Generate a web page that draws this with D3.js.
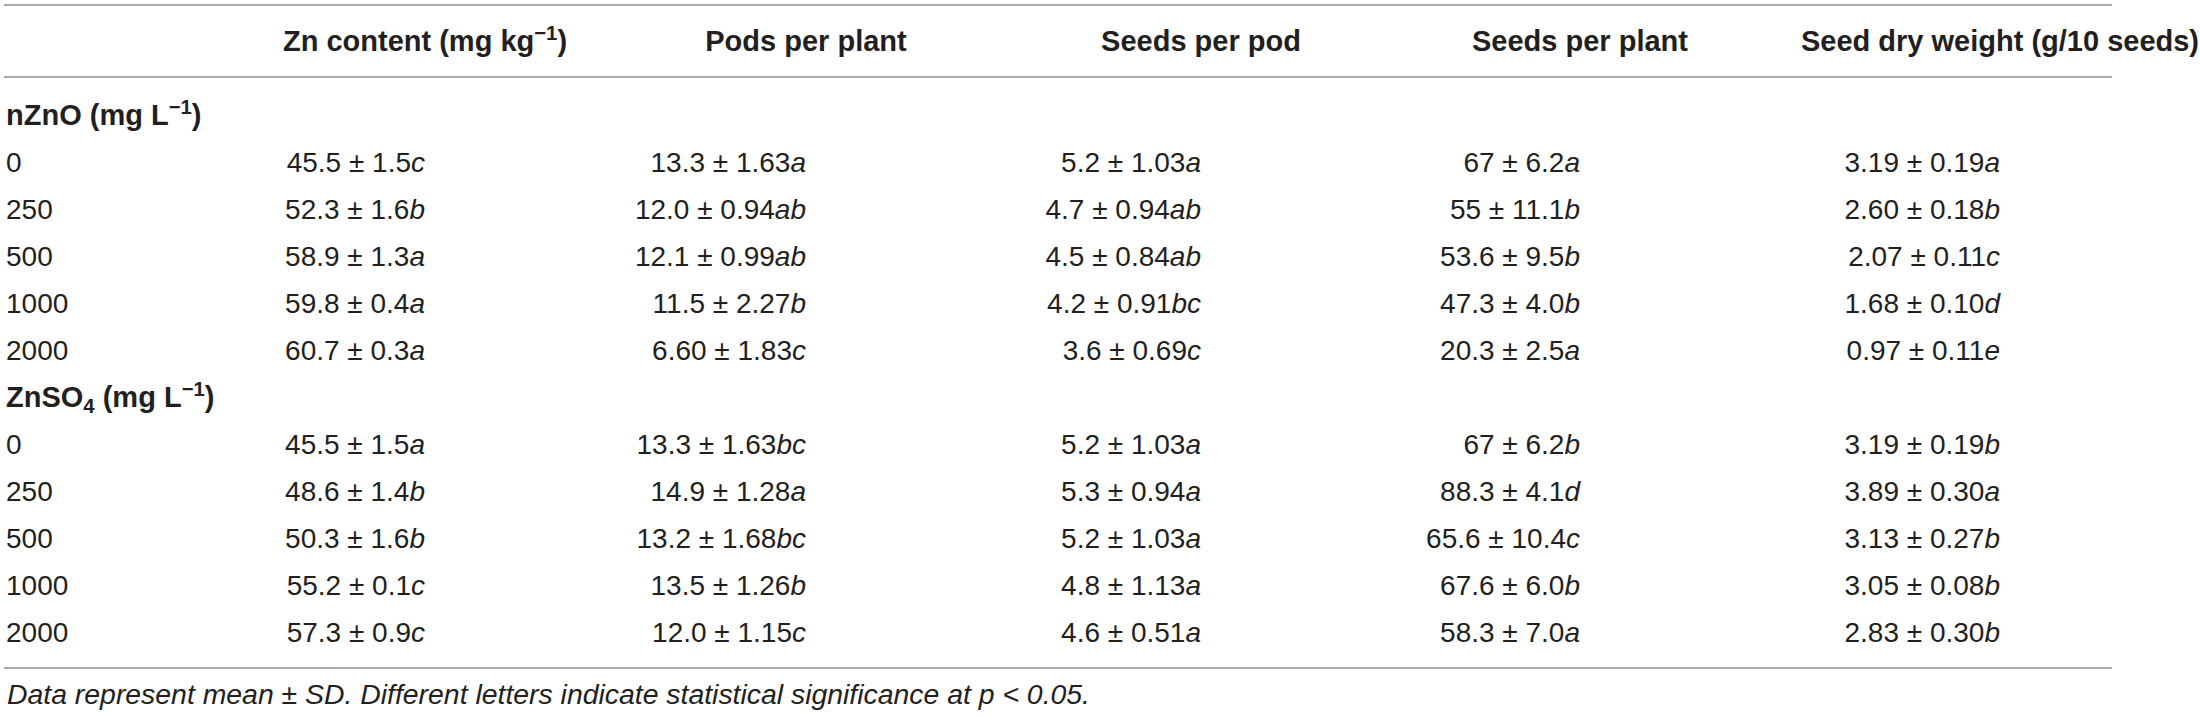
<!DOCTYPE html>
<html>
<head>
<meta charset="utf-8">
<script src="https://cdn.jsdelivr.net/npm/d3@7/dist/d3.min.js"></script>
<style>
  body { margin: 0; background: #fff; }
  svg text { font-family: "Liberation Sans", Arial, sans-serif; fill: #231f20; }
</style>
</head>
<body>
<div id="viz"></div>
<script>
// table content
var doses = ["0", "250", "500", "1000", "2000"];

var nzno_zn      = ["45.5", "52.3", "58.9", "59.8", "60.7"];
var nzno_zn_sd   = ["1.5", "1.6", "1.3", "0.4", "0.3"];
var nzno_zn_l    = ["c", "b", "a", "a", "a"];
var nzno_pods    = ["13.3", "12.0", "12.1", "11.5", "6.60"];
var nzno_pods_sd = ["1.63", "0.94", "0.99", "2.27", "1.83"];
var nzno_pods_l  = ["a", "ab", "ab", "b", "c"];
var nzno_spp     = ["5.2", "4.7", "4.5", "4.2", "3.6"];
var nzno_spp_sd  = ["1.03", "0.94", "0.84", "0.91", "0.69"];
var nzno_spp_l   = ["a", "ab", "ab", "bc", "c"];
var nzno_spl     = ["67", "55", "53.6", "47.3", "20.3"];
var nzno_spl_sd  = ["6.2", "11.1", "9.5", "4.0", "2.5"];
var nzno_spl_l   = ["a", "b", "b", "b", "a"];
var nzno_dw      = ["3.19", "2.60", "2.07", "1.68", "0.97"];
var nzno_dw_sd   = ["0.19", "0.18", "0.11", "0.10", "0.11"];
var nzno_dw_l    = ["a", "b", "c", "d", "e"];

var znso_zn      = ["45.5", "48.6", "50.3", "55.2", "57.3"];
var znso_zn_sd   = ["1.5", "1.4", "1.6", "0.1", "0.9"];
var znso_zn_l    = ["a", "b", "b", "c", "c"];
var znso_pods    = ["13.3", "14.9", "13.2", "13.5", "12.0"];
var znso_pods_sd = ["1.63", "1.28", "1.68", "1.26", "1.15"];
var znso_pods_l  = ["bc", "a", "bc", "b", "c"];
var znso_spp     = ["5.2", "5.3", "5.2", "4.8", "4.6"];
var znso_spp_sd  = ["1.03", "0.94", "1.03", "1.13", "0.51"];
var znso_spp_l   = ["a", "a", "a", "a", "a"];
var znso_spl     = ["67", "88.3", "65.6", "67.6", "58.3"];
var znso_spl_sd  = ["6.2", "4.1", "10.4", "6.0", "7.0"];
var znso_spl_l   = ["b", "d", "c", "b", "a"];
var znso_dw      = ["3.19", "3.89", "3.13", "3.05", "2.83"];
var znso_dw_sd   = ["0.19", "0.30", "0.27", "0.08", "0.30"];
var znso_dw_l    = ["b", "a", "b", "b", "b"];

var columns = ["zn", "pods", "spp", "spl", "dw"];
var footnote = "Data represent mean \u00b1 SD. Different letters indicate statistical significance at p < 0.05.";

var w = 2200, h = 717;
var fs = 28, hfs = 29;

var svg = d3.select('#viz')
            .append('svg')
            .attr('width', w)
            .attr('height', h);

// column centres: headers centred there, values right-aligned to them
var x = d3.scaleOrdinal()
          .domain(columns)
          .range([425, 806, 1201, 1580, 2000]);

// row 0 = nZnO label, 1..5 doses, 6 = ZnSO4 label, 7..11 doses
var y = d3.scaleLinear()
          .domain([0, 11])
          .range([115, 632]);

var lineY = [5, 77, 668];
svg.selectAll('line.rule')
   .data(lineY)
   .enter()
   .append('line')
   .attr('class', 'rule')
   .attr('x1', 4)
   .attr('x2', 2112)
   .attr('y1', d => d)
   .attr('y2', d => d)
   .attr('stroke', '#a7a9ac')
   .attr('stroke-width', 2);

// header
var hdrY = 41 + hfs * 0.36;
var hdr = svg.append('g').attr('font-weight', 'bold').attr('font-size', hfs);

var h1 = hdr.append('text').attr('x', x('zn')).attr('y', hdrY).attr('text-anchor', 'middle');
h1.append('tspan').text('Zn content (mg kg');
h1.append('tspan').attr('font-size', hfs * 0.7).attr('dy', -11).text('\u22121');
h1.append('tspan').attr('dy', 11).text(')');

hdr.append('text').attr('x', x('pods')).attr('y', hdrY).attr('text-anchor', 'middle').text('Pods per plant');
hdr.append('text').attr('x', x('spp')).attr('y', hdrY).attr('text-anchor', 'middle').text('Seeds per pod');
hdr.append('text').attr('x', x('spl')).attr('y', hdrY).attr('text-anchor', 'middle').text('Seeds per plant');
hdr.append('text').attr('x', x('dw')).attr('y', hdrY).attr('text-anchor', 'middle').text('Seed dry weight (g/10 seeds)');

// group labels
var g1 = svg.append('text').attr('x', 6).attr('y', y(0) + hfs * 0.36)
            .attr('font-weight', 'bold').attr('font-size', hfs);
g1.append('tspan').text('nZnO (mg L');
g1.append('tspan').attr('font-size', hfs * 0.7).attr('dy', -11).text('\u22121');
g1.append('tspan').attr('dy', 11).text(')');

var g2 = svg.append('text').attr('x', 6).attr('y', y(6) + hfs * 0.36)
            .attr('font-weight', 'bold').attr('font-size', hfs);
g2.append('tspan').text('ZnSO');
g2.append('tspan').attr('font-size', hfs * 0.7).attr('dy', 6).text('4');
g2.append('tspan').attr('dy', -6).text(' (mg L');
g2.append('tspan').attr('font-size', hfs * 0.7).attr('dy', -11).text('\u22121');
g2.append('tspan').attr('dy', 11).text(')');

var groups = [
  { start: 1, zn: [nzno_zn, nzno_zn_sd, nzno_zn_l], pods: [nzno_pods, nzno_pods_sd, nzno_pods_l],
    spp: [nzno_spp, nzno_spp_sd, nzno_spp_l], spl: [nzno_spl, nzno_spl_sd, nzno_spl_l], dw: [nzno_dw, nzno_dw_sd, nzno_dw_l] },
  { start: 7, zn: [znso_zn, znso_zn_sd, znso_zn_l], pods: [znso_pods, znso_pods_sd, znso_pods_l],
    spp: [znso_spp, znso_spp_sd, znso_spp_l], spl: [znso_spl, znso_spl_sd, znso_spl_l], dw: [znso_dw, znso_dw_sd, znso_dw_l] }
];

var cells = [];
groups.forEach(function(g) {
  doses.forEach(function(d, i) {
    cells.push({ col: 'label', row: g.start + i, mean: d });
    columns.forEach(function(c) {
      cells.push({ col: c, row: g.start + i, mean: g[c][0][i], sd: g[c][1][i], letter: g[c][2][i] });
    });
  });
});

var body = svg.append('g').attr('font-size', fs);

var txt = body.selectAll('text.cell')
    .data(cells)
    .enter()
    .append('text')
    .attr('class', 'cell')
    .attr('x', d => d.col == 'label' ? 6 : x(d.col))
    .attr('y', d => y(d.row) + fs * 0.36)
    .attr('text-anchor', d => d.col == 'label' ? 'start' : 'end');

txt.append('tspan').text(d => d.col == 'label' ? d.mean : d.mean + ' \u00b1 ' + d.sd);
txt.filter(d => d.col != 'label')
   .append('tspan')
   .attr('font-style', 'italic')
   .text(d => d.letter);

// footnote (condensed italic in the original)
svg.append('text')
   .attr('x', 7)
   .attr('y', 694 + 27 * 0.36)
   .attr('font-size', 27)
   .attr('font-style', 'italic')
   .attr('textLength', 1083)
   .attr('lengthAdjust', 'spacingAndGlyphs')
   .text(footnote);
</script>
</body>
</html>
